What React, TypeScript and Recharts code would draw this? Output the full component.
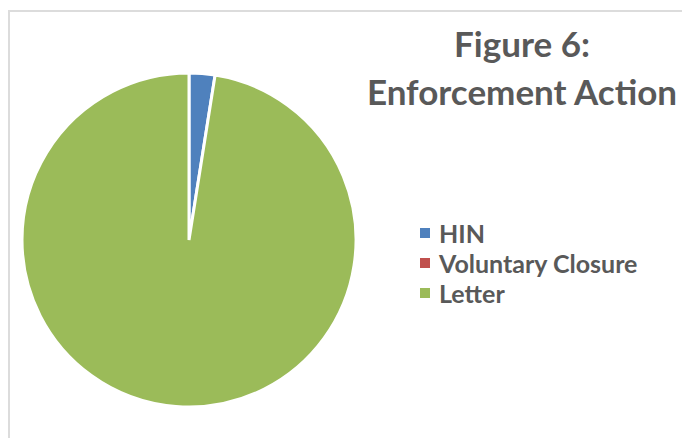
import { PieChart, Pie, Cell, Legend } from 'recharts'

const categories = ['HIN', 'Voluntary Closure', 'Letter']
const counts = [2.5, 0, 97.5]
const colors = ['#4F81BD', '#C0504D', '#9BBB59']
const titleLines = ['Figure 6:', 'Enforcement Action']

const data = categories.map((name, i) => ({ name, value: counts[i] }))

const font = 'Lato, "Open Sans", sans-serif'

// legend drawn in category order, same colours as the cells
function LegendBox() {
  return (
    <div style={{ fontFamily: font, fontWeight: 700, fontSize: 25, color: '#595959' }}>
      {categories.map((name, i) => (
        <div key={name} style={{ display: 'flex', alignItems: 'center', height: 30, whiteSpace: 'nowrap' }}>
          <span style={{ width: 10, height: 10, background: colors[i], display: 'inline-block', marginRight: 9, flex: 'none' }} />
          <span>{name}</span>
        </div>
      ))}
    </div>
  )
}

export default function App() {
  return (
    <div style={{
      position: 'relative', width: 674, height: 428, marginTop: 2, boxSizing: 'border-box',
      borderTop: '2px solid #dcdcdc', borderLeft: '2px solid #dcdcdc', background: '#fff',
    }}>
      <PieChart width={672} height={426}>
        <Pie
          data={data}
          dataKey="value"
          nameKey="name"
          cx={174}
          cy={223}
          outerRadius={167}
          startAngle={90}
          endAngle={-270}
          stroke="#fff"
          strokeWidth={3}
          isAnimationActive={false}
        >
          {data.map((d, i) => <Cell key={d.name} fill={colors[i]} />)}
        </Pie>
        <Legend
          layout="vertical"
          align="right"
          verticalAlign="top"
          content={LegendBox}
          wrapperStyle={{ left: 410, top: 206, width: 260 }}
        />
      </PieChart>
      <div style={{
        position: 'absolute', left: 342, top: 7, width: 340, textAlign: 'center',
        fontFamily: font, fontWeight: 700, fontSize: 35, lineHeight: '48px', color: '#595959',
      }}>
        {titleLines.map(t => <div key={t}>{t}</div>)}
      </div>
    </div>
  )
}
